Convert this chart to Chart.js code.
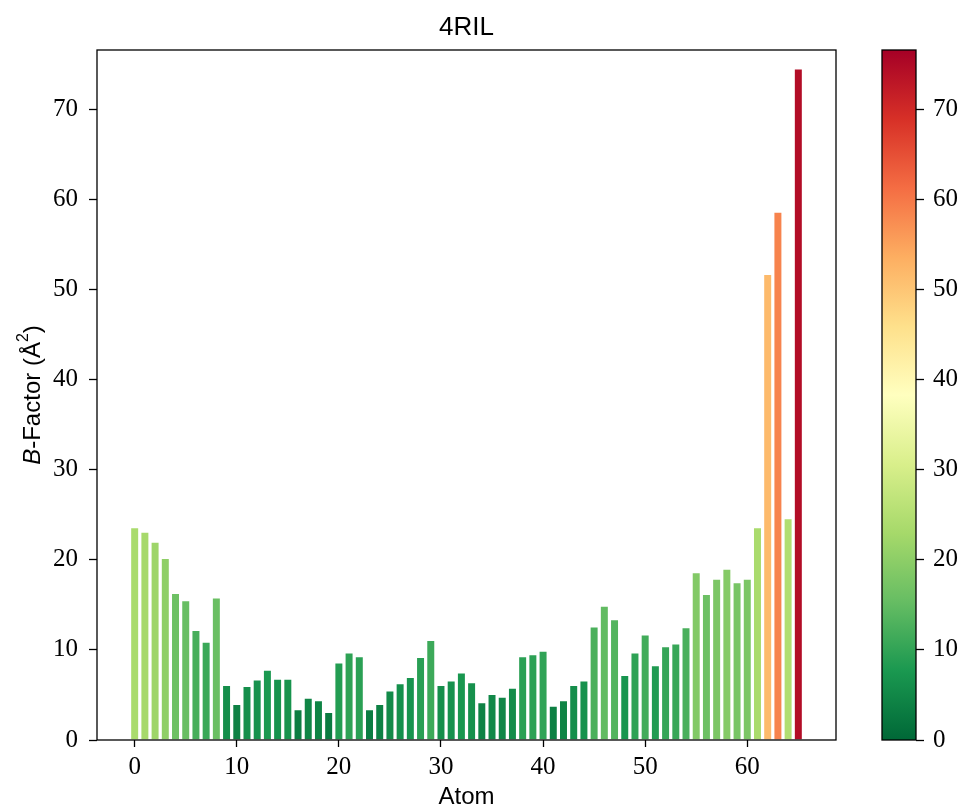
<!DOCTYPE html>
<html>
<head>
<meta charset="utf-8">
<script src="https://cdn.jsdelivr.net/npm/chart.js@4.4.1/dist/chart.umd.min.js"></script>
<style>
  html, body { margin: 0; padding: 0; background: #fff; }
  #wrap { position: relative; width: 964px; height: 812px; }
  #main { position: absolute; left: 0; top: 0; }
  #cbar { position: absolute; left: 860px; top: 0; }
</style>
</head>
<body>
<div id="wrap">
  <canvas id="main" width="964" height="812"></canvas>
  <canvas id="cbar" width="104" height="812"></canvas>
</div>
<script>
// B-factor per atom, 4RIL
const atoms = Array.from({ length: 66 }, (_, i) => i)
const bFactors = [
  23.6, 23.1, 22.0, 20.2, 16.3, 15.5, 12.2, 10.9, 15.8, 6.1,
  4.0, 6.0, 6.7, 7.8, 6.8, 6.8, 3.4, 4.7, 4.4, 3.1,
  8.6, 9.7, 9.3, 3.4, 4.0, 5.5, 6.3, 7.0, 9.2, 11.1,
  6.1, 6.6, 7.5, 6.4, 4.2, 5.1, 4.8, 5.8, 9.3, 9.5,
  9.9, 3.8, 4.4, 6.1, 6.6, 12.6, 14.9, 13.4, 7.2, 9.7,
  11.7, 8.3, 10.4, 10.7, 12.5, 18.6, 16.2, 17.9, 19.0, 17.5,
  17.9, 23.6, 51.7, 58.6, 24.6, 74.5,
]
const xTicks = [0, 10, 20, 30, 40, 50, 60]
const yTicks = [0, 10, 20, 30, 40, 50, 60, 70]
const xMin = -3.69
const xMax = 68.69
const yMax = 76.55

// RdYlGn reversed: green at low values, red at high values
const RdYlGn_r = ['#006837', '#1a9850', '#66bd63', '#a6d96a', '#d9ef8b', '#ffffbf',
                  '#fee08b', '#fdae61', '#f46d43', '#d73027', '#a50026']

function hexToRgb(h) {
    return [1, 3, 5].map(i => parseInt(h.slice(i, i + 2), 16))
}

function cmap(t) {
    t = Math.min(1, Math.max(0, t))
    const pos = t * (RdYlGn_r.length - 1)
    const i = Math.min(Math.floor(pos), RdYlGn_r.length - 2)
    const f = pos - i
    const a = hexToRgb(RdYlGn_r[i]), b = hexToRgb(RdYlGn_r[i + 1])
    const c = a.map((v, k) => Math.round(v + (b[k] - v) * f))
    return `rgb(${c[0]}, ${c[1]}, ${c[2]})`
}

const serif = "'Liberation Serif', 'DejaVu Serif', serif"
const sans = "'Liberation Sans', 'DejaVu Sans', sans-serif"
const tickFont = { family: serif, size: 25 }

Chart.defaults.color = '#000'
Chart.defaults.animation = false

// ── Frame, title over the plot area, rotated y title with italic B ───────────
const framePlugin = {
    id: 'frame',
    afterDraw(chart) {
        const { ctx, chartArea: a } = chart
        ctx.save()
        ctx.strokeStyle = '#000'
        ctx.lineWidth = 1.3
        ctx.strokeRect(a.left, a.top, a.right - a.left, a.bottom - a.top)

        ctx.fillStyle = '#000'
        ctx.textAlign = 'center'
        ctx.textBaseline = 'middle'
        ctx.font = `26px ${sans}`
        ctx.fillText('4RIL', (a.left + a.right) / 2, 28)

        const parts = [
            { t: 'B', font: `italic 24px ${sans}`, dy: 0 },
            { t: '-Factor (Å', font: `24px ${sans}`, dy: 0 },
            { t: '2', font: `16px ${sans}`, dy: -9 },
            { t: ')', font: `24px ${sans}`, dy: 0 },
        ]
        let total = 0
        parts.forEach(p => { ctx.font = p.font; p.w = ctx.measureText(p.t).width; total += p.w })
        ctx.translate(33, (a.top + a.bottom) / 2)
        ctx.rotate(-Math.PI / 2)
        ctx.textAlign = 'left'
        let x = -total / 2
        parts.forEach(p => {
            ctx.font = p.font
            ctx.fillText(p.t, x, p.dy)
            x += p.w
        })
        ctx.restore()
    },
}

new Chart(document.getElementById('main'), {
    type: 'bar',
    data: {
        datasets: [{
            data: atoms.map((a, i) => ({ x: a, y: bFactors[i] })),
            backgroundColor: bFactors.map(v => cmap(v / yMax)),
            borderColor: 'rgba(255, 255, 255, 0.45)',
            borderWidth: 1,
            borderSkipped: 'start',
            categoryPercentage: 1,
            barPercentage: 0.88,
        }],
    },
    options: {
        responsive: false,
        layout: { padding: { left: 0, right: 128, top: 50, bottom: 0 } },
        plugins: {
            legend: { display: false },
            tooltip: { enabled: false },
            title: { display: false },
        },
        scales: {
            x: {
                type: 'linear',
                offset: false,
                min: xMin,
                max: xMax,
                afterBuildTicks: s => { s.ticks = xTicks.map(v => ({ value: v })) },
                afterFit: s => { s.height = 72 },
                ticks: { font: tickFont, padding: 5, maxRotation: 0 },
                grid: { offset: false, drawOnChartArea: false, tickLength: 7, tickColor: '#000', tickWidth: 1.3 },
                border: { display: false },
                title: {
                    display: true,
                    text: 'Atom',
                    font: { family: sans, size: 24 },
                    padding: { top: 0, bottom: 0 },
                },
            },
            y: {
                min: 0,
                max: yMax,
                afterBuildTicks: s => { s.ticks = yTicks.map(v => ({ value: v })) },
                afterFit: s => { s.width = 97 },
                ticks: { font: tickFont, padding: 11 },
                grid: { drawOnChartArea: false, tickLength: 8, tickColor: '#000', tickWidth: 1.3 },
                border: { display: false },
            },
        },
    },
    plugins: [framePlugin],
})

// ── Colour bar ───────────────────────────────────────────────────────────────
const colorbarPlugin = {
    id: 'colorbar',
    beforeDraw(chart) {
        const { ctx, chartArea: a } = chart
        const g = ctx.createLinearGradient(0, a.bottom, 0, a.top)
        RdYlGn_r.forEach((c, i) => g.addColorStop(i / (RdYlGn_r.length - 1), c))
        ctx.save()
        ctx.fillStyle = g
        ctx.fillRect(a.left, a.top, a.right - a.left, a.bottom - a.top)
        ctx.restore()
    },
    afterDraw(chart) {
        const { ctx, chartArea: a } = chart
        ctx.save()
        ctx.strokeStyle = '#000'
        ctx.lineWidth = 1.3
        ctx.strokeRect(a.left, a.top, a.right - a.left, a.bottom - a.top)
        ctx.restore()
    },
}

new Chart(document.getElementById('cbar'), {
    type: 'scatter',
    data: { datasets: [{ data: [] }] },
    options: {
        responsive: false,
        layout: { padding: { left: 22, right: 0, top: 50, bottom: 72 } },
        plugins: { legend: { display: false }, tooltip: { enabled: false } },
        scales: {
            x: { display: false, min: 0, max: 1 },
            y: {
                position: 'right',
                min: 0,
                max: yMax,
                afterBuildTicks: s => { s.ticks = yTicks.map(v => ({ value: v })) },
                afterFit: s => { s.width = 48 },
                ticks: { font: tickFont, padding: 9 },
                grid: { drawOnChartArea: false, tickLength: 8, tickColor: '#000', tickWidth: 1.3 },
                border: { display: false },
            },
        },
    },
    plugins: [colorbarPlugin],
})
</script>
</body>
</html>
